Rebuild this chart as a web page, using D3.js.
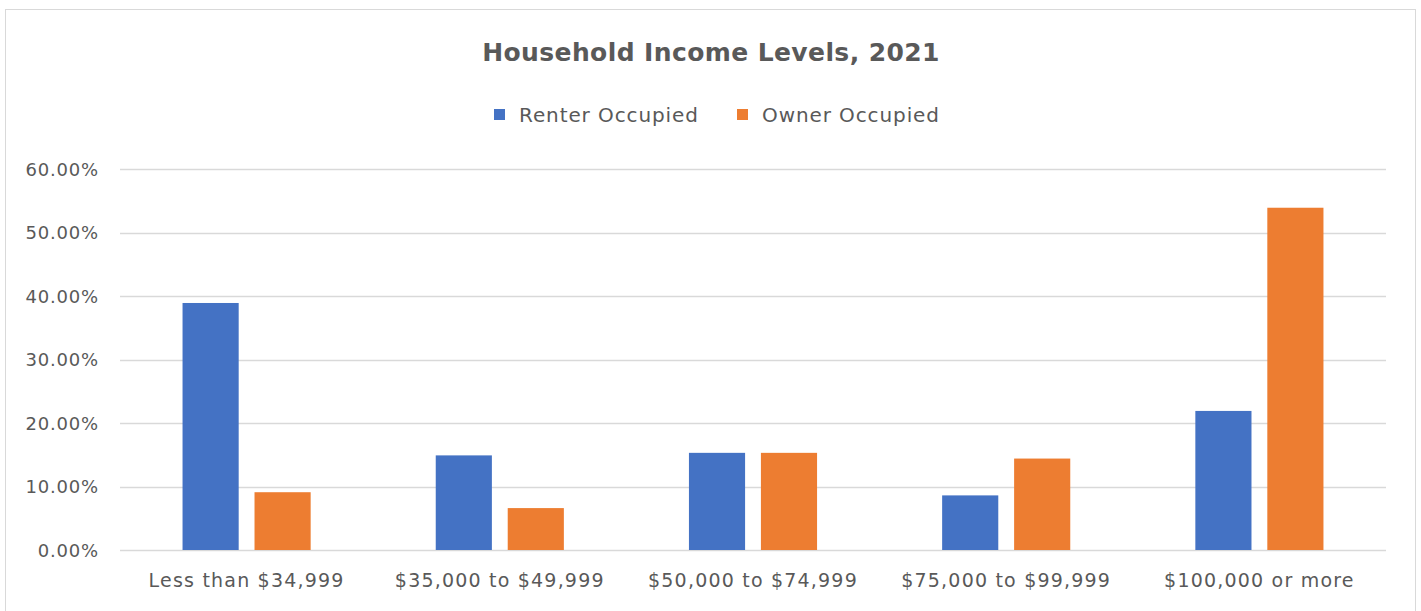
<!DOCTYPE html>
<html>
<head>
<meta charset="utf-8">
<script src="https://cdn.jsdelivr.net/npm/d3@7"></script>
<style>
  body { margin: 0; background: #fff; }
  svg text { font-family: "DejaVu Sans", sans-serif; fill: #595959; }
</style>
</head>
<body>
<div id="chart"></div>
<script>
var categories = ["Less than $34,999", "$35,000 to $49,999", "$50,000 to $74,999", "$75,000 to $99,999", "$100,000 or more"];
var seriesNames = ["Renter Occupied", "Owner Occupied"];
var renter = [0.389, 0.149, 0.153, 0.086, 0.219];
var owner = [0.091, 0.066, 0.153, 0.144, 0.539];
var yTicks = [0, 0.1, 0.2, 0.3, 0.4, 0.5, 0.6];
var colors = ["#4472C4", "#ED7D31"];

var width = 1421, height = 611;
var margin = {top: 169, right: 35, bottom: 61, left: 120};

var svg = d3.select("#chart").append("svg")
    .attr("width", width)
    .attr("height", height);

// outer chart frame
svg.append("rect")
    .attr("x", 5.5).attr("y", 9.5)
    .attr("width", 1410).attr("height", 620)
    .attr("fill", "#fff")
    .attr("stroke", "#d9d9d9");

var x0 = d3.scaleBand()
    .domain(categories)
    .range([margin.left, width - margin.right])
    .paddingInner(0.494)
    .paddingOuter(0.247);

var x1 = d3.scaleBand()
    .domain(seriesNames)
    .range([0, x0.bandwidth()])
    .paddingInner(0.22);

var y = d3.scaleLinear()
    .domain([0, 0.6])
    .range([height - margin.bottom, margin.top]);

// gridlines
svg.append("g")
    .selectAll("line")
    .data(yTicks)
    .join("line")
    .attr("x1", margin.left)
    .attr("x2", width - margin.right)
    .attr("y1", function(d) { return Math.round(y(d)) + 0.5; })
    .attr("y2", function(d) { return Math.round(y(d)) + 0.5; })
    .attr("stroke", "#d9d9d9")
    .attr("stroke-width", 1.5);

// y axis labels
var yAxis = d3.axisLeft(y)
    .tickValues(yTicks)
    .tickFormat(d3.format(".2%"))
    .tickSize(0)
    .tickPadding(21);

var gy = svg.append("g")
    .attr("transform", "translate(" + margin.left + ",0)")
    .call(yAxis);
gy.select(".domain").remove();
gy.selectAll("text")
    .attr("font-size", 18)
    .attr("letter-spacing", 0.8)
    .attr("dy", "0.35em");

// bars
var rows = categories.map(function(c, i) {
    return {cat: c, values: [renter[i], owner[i]]};
});

var groups = svg.append("g")
    .selectAll("g")
    .data(rows)
    .join("g")
    .attr("transform", function(d) { return "translate(" + x0(d.cat) + ",0)"; });

groups.selectAll("rect")
    .data(function(d) {
        return d.values.map(function(v, j) { return {name: seriesNames[j], value: v, idx: j}; });
    })
    .join("rect")
    .attr("x", function(d) { return x1(d.name); })
    .attr("y", function(d) { return y(d.value); })
    .attr("width", x1.bandwidth())
    .attr("height", function(d) { return y(0) - y(d.value); })
    .attr("fill", function(d) { return colors[d.idx]; });

// x axis labels
var xAxis = d3.axisBottom(x0).tickSize(0).tickPadding(24);
var gx = svg.append("g")
    .attr("transform", "translate(0," + y(0) + ")")
    .call(xAxis);
gx.select(".domain").remove();
gx.selectAll("text")
    .attr("font-size", 19)
    .attr("letter-spacing", 1.2);

// title
svg.append("text")
    .attr("x", 711)
    .attr("y", 61)
    .attr("text-anchor", "middle")
    .attr("font-size", 25)
    .attr("letter-spacing", 0.4)
    .attr("font-weight", "bold")
    .text("Household Income Levels, 2021");

// legend
var legendX = [494, 737];
var legend = svg.append("g")
    .selectAll("g")
    .data(seriesNames)
    .join("g")
    .attr("transform", function(d, i) { return "translate(" + legendX[i] + ",109)"; });

legend.append("rect")
    .attr("width", 11).attr("height", 11)
    .attr("fill", function(d, i) { return colors[i]; });

legend.append("text")
    .attr("x", 25)
    .attr("y", 13)
    .attr("font-size", 20)
    .attr("letter-spacing", 0.9)
    .text(function(d) { return d; });
</script>
</body>
</html>
